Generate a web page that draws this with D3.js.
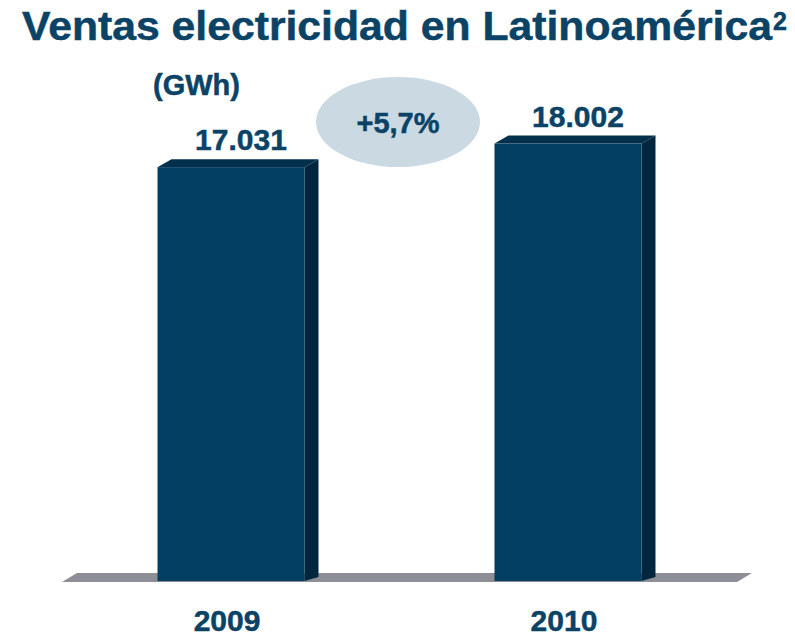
<!DOCTYPE html>
<html>
<head>
<meta charset="utf-8">
<script src="https://cdn.jsdelivr.net/npm/d3@7"></script>
<style>
  body { margin: 0; background: #fff; }
  text { font-family: "Liberation Sans", Arial, sans-serif; font-weight: bold; fill: #0b4366; stroke: #0b4366; stroke-width: 0.5px; }
</style>
</head>
<body>
<div id="chart"></div>
<script>
// data
const years = ["2009", "2010"];
const sales = [17031, 18002];
const valueLabels = ["17.031", "18.002"];
const growthLabel = "+5,7%";

const width = 795, height = 638;
const depthX = 14, depthY = 8;

const svg = d3.select("#chart").append("svg")
    .attr("width", width)
    .attr("height", height);

const x = d3.scaleBand()
    .domain(years)
    .range([62, 737])
    .paddingInner(0.5638)
    .paddingOuter(0.2834);

const y = d3.scaleLinear()
    .domain([0, 20000])
    .range([581, 95]);

// title
svg.append("text")
    .attr("x", 22)
    .attr("y", 40)
    .attr("font-size", 40)
    .attr("textLength", 750)
    .attr("lengthAdjust", "spacingAndGlyphs")
    .text("Ventas electricidad en Latinoamérica");
svg.append("text")
    .attr("x", 773)
    .attr("y", 30)
    .attr("font-size", 25)
    .text("2");

svg.append("text")
    .attr("x", 153)
    .attr("y", 95)
    .attr("font-size", 29)
    .text("(GWh)");

// floor
const x0 = x.range()[0], x1 = x.range()[1];
svg.append("path")
    .attr("d", `M${x0},${y(0) + 1} L${x0 + 15},${y(0) - depthY} L${x1 + 15},${y(0) - depthY} L${x1},${y(0) + 1} Z`)
    .attr("fill", "#8e8e96");

// bars
const bars = svg.selectAll("g.bar")
    .data(years.map((d, i) => ({ year: d, value: sales[i], label: valueLabels[i] })))
    .join("g")
    .attr("class", "bar");

bars.append("path") // side
    .attr("d", d => {
        const r = x(d.year) + x.bandwidth();
        return `M${r},${y(d.value)} L${r + depthX},${y(d.value) - depthY} L${r + depthX},${y(0) - depthY + 4} L${r},${y(0)} Z`;
    })
    .attr("fill", "#02263d");

bars.append("path") // top
    .attr("d", d => {
        const l = x(d.year), r = l + x.bandwidth(), t = y(d.value);
        return `M${l},${t} L${l + depthX},${t - depthY} L${r + depthX},${t - depthY} L${r},${t} Z`;
    })
    .attr("fill", "#012f4c");

bars.append("rect") // front
    .attr("x", d => x(d.year))
    .attr("y", d => y(d.value))
    .attr("width", x.bandwidth())
    .attr("height", d => y(0) - y(d.value))
    .attr("fill", "#023f62");

bars.append("text")
    .attr("x", d => x(d.year) + x.bandwidth() / 2 + 10)
    .attr("y", d => y(d.value) - 17)
    .attr("text-anchor", "middle")
    .attr("font-size", 30)
    .text(d => d.label);

// year labels
svg.selectAll("text.year")
    .data(years)
    .join("text")
    .attr("class", "year")
    .attr("x", d => x(d) + x.bandwidth() / 2 - 4)
    .attr("y", 631)
    .attr("text-anchor", "middle")
    .attr("font-size", 30)
    .text(d => d);

// growth bubble
svg.append("ellipse")
    .attr("cx", 398)
    .attr("cy", 122)
    .attr("rx", 82)
    .attr("ry", 45)
    .attr("fill", "#cbd9e3");
svg.append("text")
    .attr("x", 398)
    .attr("y", 133)
    .attr("text-anchor", "middle")
    .attr("font-size", 29)
    .text(growthLabel);
</script>
</body>
</html>
